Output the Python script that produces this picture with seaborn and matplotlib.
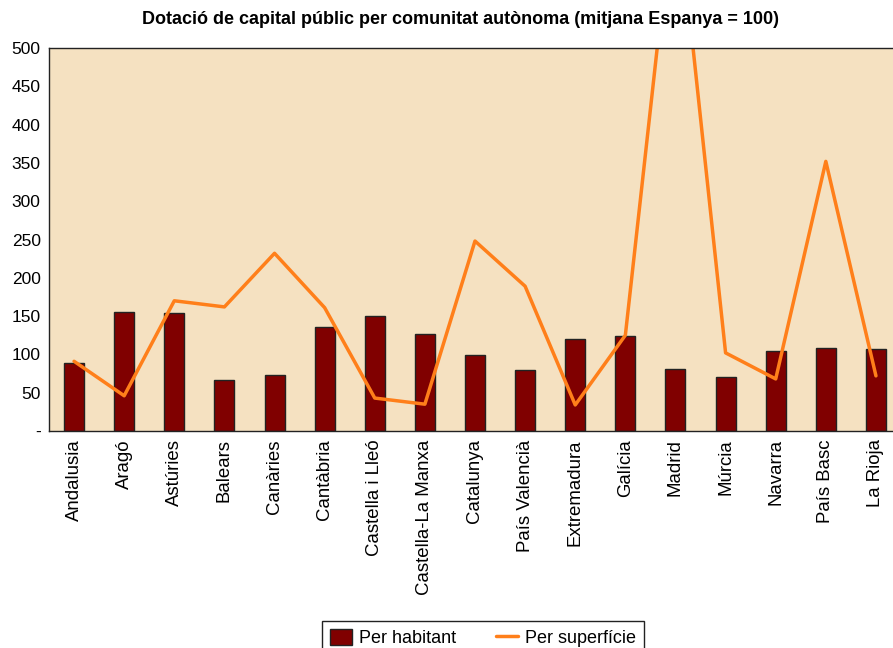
import matplotlib
matplotlib.use("Agg")
import matplotlib.pyplot as plt
import seaborn as sns
import numpy as np
import pandas as pd
from matplotlib.ticker import FuncFormatter

# Values (Spain average = 100)
regions = ["Andalusia", "Aragó", "Astúries", "Balears", "Canàries", "Cantàbria",
           "Castella i Lleó", "Castella-La Manxa", "Catalunya", "País Valencià",
           "Extremadura", "Galícia", "Madrid", "Múrcia", "Navarra", "País Basc",
           "La Rioja"]
per_habitant = [89, 155, 154, 67, 73, 136, 150, 127, 99, 80, 120, 124, 81, 70, 104, 108, 107]
per_superficie = [91, 46, 170, 162, 232, 161, 43, 35, 248, 189, 34, 125, 715, 102, 68, 352, 72]

title = "Dotació de capital públic per comunitat autònoma (mitjana Espanya = 100)"

sns.set_style("white")
plt.rcParams["font.family"] = ["Liberation Sans", "DejaVu Sans"]
plt.rcParams["text.color"] = "black"
plt.rcParams["xtick.color"] = "black"
plt.rcParams["ytick.color"] = "black"

df = pd.DataFrame({"regio": regions, "hab": per_habitant, "sup": per_superficie})

fig = plt.figure(figsize=(8.93, 6.48), dpi=100)
ax = fig.add_axes([49 / 893, 1 - 431 / 648, 852 / 893, 383 / 648])
ax.set_facecolor("#F5E1C1")

sns.barplot(data=df, x="regio", y="hab", color="#800000", width=0.4,
            edgecolor="#222222", linewidth=1, saturation=1, ax=ax,
            label="Per habitant")
sns.lineplot(x=np.arange(len(regions)), y=df["sup"], color="#FF7F1A",
             linewidth=2.5, ax=ax, label="Per superfície")

ax.set_xlim(-0.5, len(regions) - 0.5)
ax.set_ylim(0, 500)
ax.set_yticks(range(0, 501, 50))
ax.yaxis.set_major_formatter(FuncFormatter(lambda v, p: "-" if v == 0 else f"{int(v)}"))
ax.tick_params(axis="y", length=0, labelsize=12.5, pad=6)
ax.tick_params(axis="x", length=0, labelsize=13.4, pad=6)
plt.setp(ax.get_xticklabels(), rotation=90)
ax.set_xlabel("")
ax.set_ylabel("")
for s in ax.spines.values():
    s.set_color("#222222")
    s.set_linewidth(1)

ax.legend_.remove()
handles, labels = ax.get_legend_handles_labels()
order = [labels.index("Per habitant"), labels.index("Per superfície")]
leg = fig.legend([handles[i] for i in order], [labels[i] for i in order],
                 loc="upper center", ncol=2,
                 bbox_to_anchor=(483 / 893, 1 - 612 / 648), fontsize=13,
                 frameon=True, fancybox=False, edgecolor="#222222",
                 framealpha=1, borderpad=0.45, columnspacing=2.2,
                 handlelength=1.2, handleheight=1.0, handletextpad=0.4)
leg.get_frame().set_linewidth(1)

fig.text(460 / 893, 1 - 19 / 648, title, ha="center", va="center",
         fontsize=13, fontweight="bold")

fig.savefig("out.png", dpi=100)
